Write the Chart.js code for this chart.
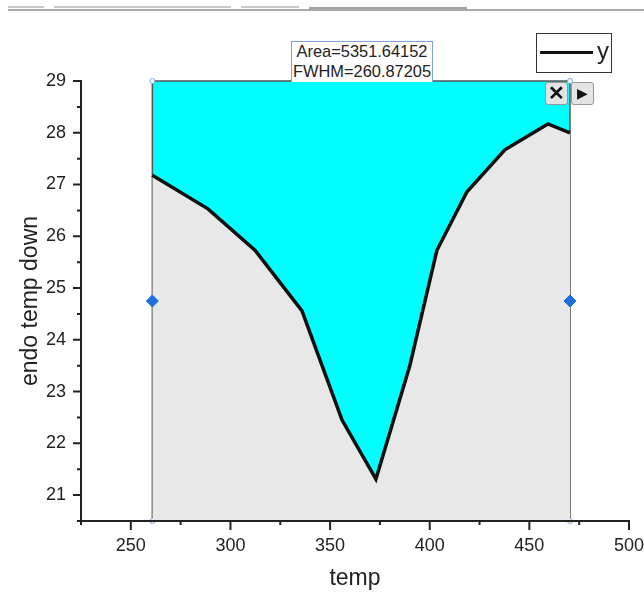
<!DOCTYPE html>
<html>
<head>
<meta charset="utf-8">
<script src="https://cdn.jsdelivr.net/npm/chart.js@4"></script>
<style>
    html, body { margin: 0; padding: 0; background: #fff; }
    #wrap { position: relative; width: 644px; height: 595px; overflow: hidden; font-family: "Liberation Sans", Arial, sans-serif; color: #222; }
    #myChart { position: absolute; left: 0; top: 0; }
    .bar { position: absolute; height: 2px; }
    #nota { position: absolute; left: 291px; top: 41px; width: 140px; height: 40px; border: 1px solid #7fa6dc; border-bottom: none; background: #fff; font-size: 16.4px; line-height: 20px; text-align: center; white-space: nowrap; }
    #nota div { margin-top: -1px; }
    #leyenda { position: absolute; left: 536px; top: 33px; width: 74px; height: 38px; border: 1px solid #333; background: #fff; }
    #leyenda i { position: absolute; left: 3px; top: 17px; width: 53px; height: 3px; background: #111; }
    #leyenda span { position: absolute; left: 60px; top: 3px; font-size: 24px; line-height: 28px; }
    .btn { position: absolute; top: 82px; width: 21px; height: 21px; border: 1px solid #999; border-radius: 3px; background: #e4e4e4; text-align: center; color: #111; }
</style>
</head>
<body>
<div id="wrap">
    <canvas id="myChart" width="644" height="595"></canvas>
    <div class="bar" style="left:8px;top:9px;width:636px;background:#a9a9a9"></div>
    <div class="bar" style="left:8px;top:6px;width:36px;background:#c8c8c8"></div>
    <div class="bar" style="left:54px;top:6px;width:177px;background:#c8c8c8"></div>
    <div class="bar" style="left:241px;top:6px;width:58px;background:#c8c8c8"></div>
    <div class="bar" style="left:309px;top:7px;width:158px;background:#a0a0a0"></div>
    <div id="nota"><div>Area=5351.64152<br>FWHM=260.87205</div></div>
    <div id="leyenda"><i></i><span>y</span></div>
    <div class="btn" style="left:545px;font:bold 20px/21px 'Liberation Sans'">✕</div>
    <div class="btn" style="left:571px;font:14px/21px 'DejaVu Sans'">▶</div>
</div>
<script>
const temp = [260.8, 288.7, 312.3, 335.9, 356, 373, 390, 403.6, 418.7, 437.7, 459.3, 470.4];
const endo = [27.18, 26.53, 25.73, 24.56, 22.45, 21.31, 23.5, 25.73, 26.86, 27.67, 28.17, 28.0];
const limiteX = [260.8, 260.8, 470.4, 470.4];
const limiteY = [20.5, 29, 29, 20.5];
const handleX = [260.8, 470.4];
const handleY = [24.75, 24.75];
const xMin = 225, xMax = 500, xStep = 25;
const yMin = 20.5, yMax = 29, yStep = 0.5;

const curva = temp.map((t, i) => ({ x: t, y: endo[i] }));
const marco = limiteX.map((t, i) => ({ x: t, y: limiteY[i] }));

// ticks mayores y menores, chart.js solo deja un largo
const marcas = {
    id: "marcas",
    afterDatasetsDraw(chart) {
        const c = chart.ctx;
        const x = chart.scales.x, y = chart.scales.y;
        c.save();
        c.strokeStyle = "#222";
        c.lineWidth = 2;
        c.beginPath();
        c.moveTo(x.left, y.top - 1);
        c.lineTo(x.left, y.bottom + 1);
        c.moveTo(x.left - 1, y.bottom);
        c.lineTo(x.right + 1, y.bottom);
        x.ticks.forEach((t) => {
            const px = x.getPixelForValue(t.value);
            c.moveTo(px, y.bottom);
            c.lineTo(px, y.bottom + (t.value % 50 === 0 ? 9 : 4));
        });
        y.ticks.forEach((t) => {
            const py = y.getPixelForValue(t.value);
            c.moveTo(x.left, py);
            c.lineTo(x.left - (t.value % 1 === 0 ? 8 : 4), py);
        });
        c.stroke();
        c.restore();
    },
};

new Chart(document.getElementById("myChart"), {
    type: "line",
    plugins: [marcas],
    data: {
        datasets: [
            { label: "arriba", data: curva, borderWidth: 0, pointRadius: 0, fill: "end", backgroundColor: "#00ffff", order: 5 },
            { label: "y", data: curva, borderColor: "#111", borderWidth: 3.5, pointRadius: 0, fill: "start", backgroundColor: "#e8e8e8", clip: false, order: 2 },
            { label: "marco", data: marco, borderColor: "#555", borderWidth: 1.5, pointRadius: 2.5, pointBackgroundColor: "#fff", pointBorderColor: "#7fa6dc", pointBorderWidth: 1, fill: false, clip: false, order: 3 },
            { label: "handles", data: handleX.map((t, i) => ({ x: t, y: handleY[i] })), showLine: false, pointStyle: "rectRot", pointRadius: 6, pointBackgroundColor: "#1c6fe0", pointBorderColor: "#1c6fe0", clip: false, order: 1 },
        ],
    },
    options: {
        responsive: false,
        animation: false,
        layout: { padding: { top: 81, right: 15, left: 0, bottom: 0 } },
        elements: { line: { tension: 0 } },
        plugins: { legend: { display: false }, tooltip: { enabled: false } },
        scales: {
            x: {
                type: "linear",
                min: xMin,
                max: xMax,
                afterFit: (s) => { s.height = 74; s.paddingRight = 0; s.paddingLeft = 0; },
                afterBuildTicks: (s) => {
                    s.ticks = [];
                    for (let v = xMin; v <= xMax; v += xStep) s.ticks.push({ value: v });
                },
                grid: { display: false },
                border: { display: false },
                ticks: {
                    autoSkip: false,
                    maxRotation: 0,
                    padding: 6,
                    color: "#222",
                    font: { family: "Liberation Sans", size: 18 },
                    callback: (v) => (v % 50 === 0 ? String(v) : ""),
                },
                title: { display: true, text: "temp", color: "#222", font: { family: "Liberation Sans", size: 23 }, padding: { top: 6, bottom: 3 } },
            },
            y: {
                min: yMin,
                max: yMax,
                afterFit: (s) => { s.width = 81; },
                afterBuildTicks: (s) => {
                    s.ticks = [];
                    for (let v = yMin; v <= yMax; v += yStep) s.ticks.push({ value: v });
                },
                grid: { display: false },
                border: { display: false },
                ticks: {
                    autoSkip: false,
                    padding: 7,
                    color: "#222",
                    font: { family: "Liberation Sans", size: 18 },
                    callback: (v) => (v % 1 === 0 ? String(v) : ""),
                },
                title: { display: true, text: "endo temp down", color: "#222", font: { family: "Liberation Sans", size: 23 }, padding: { top: 17, bottom: 0 } },
            },
        },
    },
});
</script>
</body>
</html>
